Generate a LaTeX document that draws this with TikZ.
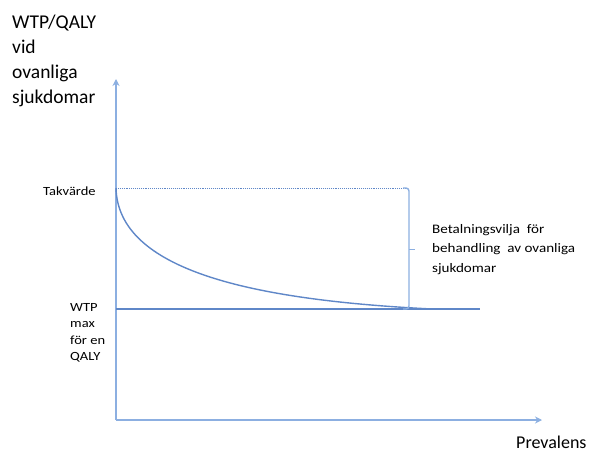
\documentclass[tikz,border=0pt]{standalone}
\usepackage{fontspec}
\setmainfont{Carlito}
\newfontfamily\widefont[FakeStretch=1.16]{Carlito}
\usetikzlibrary{arrows.meta}
\definecolor{axisblue}{RGB}{140,175,225}
\definecolor{lineblue}{RGB}{95,135,200}
\begin{document}
\begin{tikzpicture}[x=1pt,y=-1pt,
    axis/.style={axisblue,line width=1.8pt,-{Stealth[length=7pt,width=7pt]}},
    level/.style={lineblue,line width=1.4pt},
    lbl/.style={anchor=north west,inner sep=0pt,align=left}]
    \useasboundingbox (0,0) rectangle (594,452);
    % axes
    \coordinate (O) at (116,420);
    \draw[axis] (O) -- (116,79);
    \draw[axis] (O) -- (542,420);
    \node[lbl,font=\fontsize{19.5}{25}\selectfont] (ylab) at (12,15) {WTP/QALY\\vid\\ovanliga\\sjukdomar};
    \node[lbl,font=\fontsize{18}{20}\selectfont] (xlab) at (516,436) {Prevalens};
    % levels
    \coordinate (top) at (116,188);
    \coordinate (wtp) at (116,309);
    \draw[lineblue,line width=0.9pt,densely dotted] (top) -- (405,188);
    \draw[level] (wtp) -- (480,309);
    \draw[level] (top) .. controls (118,270) and (250,300) .. (432,309);
    \draw[axisblue,line width=1.4pt,rounded corners=3pt] (403,188) -- (409,188) -- (409,309) -- (403,309);
    \draw[axisblue,line width=1pt] (409,249) -- (415,249);
    % labels
    \node[lbl,font=\widefont\fontsize{12.5}{14}\selectfont] (tak) at (43,187) {Takvärde};
    \node[lbl,font=\widefont\fontsize{12.5}{16.5}\selectfont] (wtplab) at (70,303) {WTP\\max\\för en\\QALY};
    \node[lbl,font=\widefont\fontsize{13}{19.5}\selectfont] (betal) at (432,224) {Betalningsvilja \ för\\behandling \ av ovanliga\\sjukdomar};
\end{tikzpicture}
\end{document}
